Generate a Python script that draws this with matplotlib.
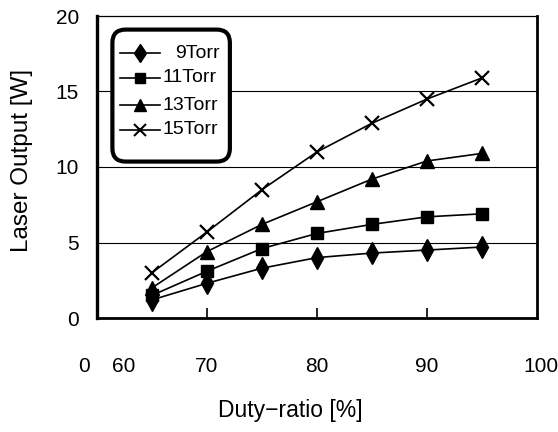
import matplotlib
matplotlib.use("Agg")
import matplotlib.pyplot as plt
from matplotlib.patches import FancyBboxPatch
from matplotlib.lines import Line2D
import matplotlib.transforms as mtransforms

plt.rcParams['font.family'] = ['Liberation Sans', 'DejaVu Sans']

duty = [65, 70, 75, 80, 85, 90, 95]
torr9 = [1.2, 2.3, 3.3, 4.0, 4.3, 4.5, 4.7]
torr11 = [1.5, 3.1, 4.6, 5.6, 6.2, 6.7, 6.9]
torr13 = [2.0, 4.4, 6.2, 7.7, 9.2, 10.4, 10.9]
torr15 = [3.0, 5.7, 8.5, 11.0, 12.9, 14.5, 15.9]
labels = ['9Torr', '11Torr', '13Torr', '15Torr']
series = [torr9, torr11, torr13, torr15]
markers = ['d', 's', '^', 'x']
msizes = [11, 8.5, 9.5, 10]

xtick_labels = ['0', '60', '70', '80', '90', '100']
xtick_pos = [58.8, 62.4, 70, 80, 90, 100.4]
yticks = [0, 5, 10, 15, 20]

fig = plt.figure(figsize=(5.58, 4.32), dpi=100)
ax = fig.add_axes([97/558, 1-318/432, 440/558, 302/432])

for ys, m, ms in zip(series, markers, msizes):
    ax.plot(duty, ys, color='black', lw=1.2, marker=m, ms=ms,
            mew=1.6 if m == 'x' else 1.0, mfc='black', mec='black', zorder=3)

ax.set_xlim(60, 100)
ax.set_ylim(0, 20)
ax.set_yticks(yticks)
ax.set_yticklabels([str(v) for v in yticks], fontsize=15)
ax.tick_params(axis='y', length=0, pad=13)
for y in [5, 10, 15]:
    ax.axhline(y, color='black', lw=0.8, zorder=1)

ax.set_xticks([70, 80, 90])
ax.set_xticklabels([])
ax.tick_params(axis='x', direction='in', length=7, width=1.2)
trans = mtransforms.blended_transform_factory(ax.transData, ax.transAxes)
for lab, xp in zip(xtick_labels, xtick_pos):
    ax.text(xp, -49/302, lab, transform=trans, ha='center', va='center',
            fontsize=15)

for side, lw in [('left', 2.4), ('bottom', 2.0), ('right', 2.0), ('top', 0.9)]:
    ax.spines[side].set_linewidth(lw)

fig.text(22/558, 1-160/432, 'Laser Output [W]', rotation=90, ha='center',
         va='center', fontsize=17.5)
fig.text(290/558, 1-411/432, 'Duty\u2212ratio [%]', ha='center',
         va='center', fontsize=16.5)

# legend box
box = FancyBboxPatch((0.035, 0.518), 0.267, 0.437,
                     boxstyle='round,pad=0,rounding_size=0.03',
                     transform=ax.transAxes, fc='white', ec='black',
                     lw=3, zorder=5, mutation_aspect=440/302)
ax.add_patch(box)
ys_leg = [0.877, 0.795, 0.705, 0.623]
text_x = [0.178, 0.150, 0.150, 0.150]
for lab, m, ms, yl, tx in zip(labels, markers, msizes, ys_leg, text_x):
    ln = Line2D([0.052, 0.143], [yl, yl], transform=ax.transAxes,
                color='black', lw=1.2, zorder=6)
    ax.add_line(ln)
    mk = Line2D([0.098], [yl], transform=ax.transAxes, color='black',
                marker=m, ms=ms * 0.85, mew=1.5 if m == 'x' else 1.0,
                mfc='black', mec='black', zorder=6, linestyle='none')
    ax.add_line(mk)
    t = ax.text(tx, yl, lab, transform=ax.transAxes, ha='left', va='center',
                fontsize=14, zorder=6)
    t.set_clip_path(box)

fig.savefig('out.png', dpi=100)
